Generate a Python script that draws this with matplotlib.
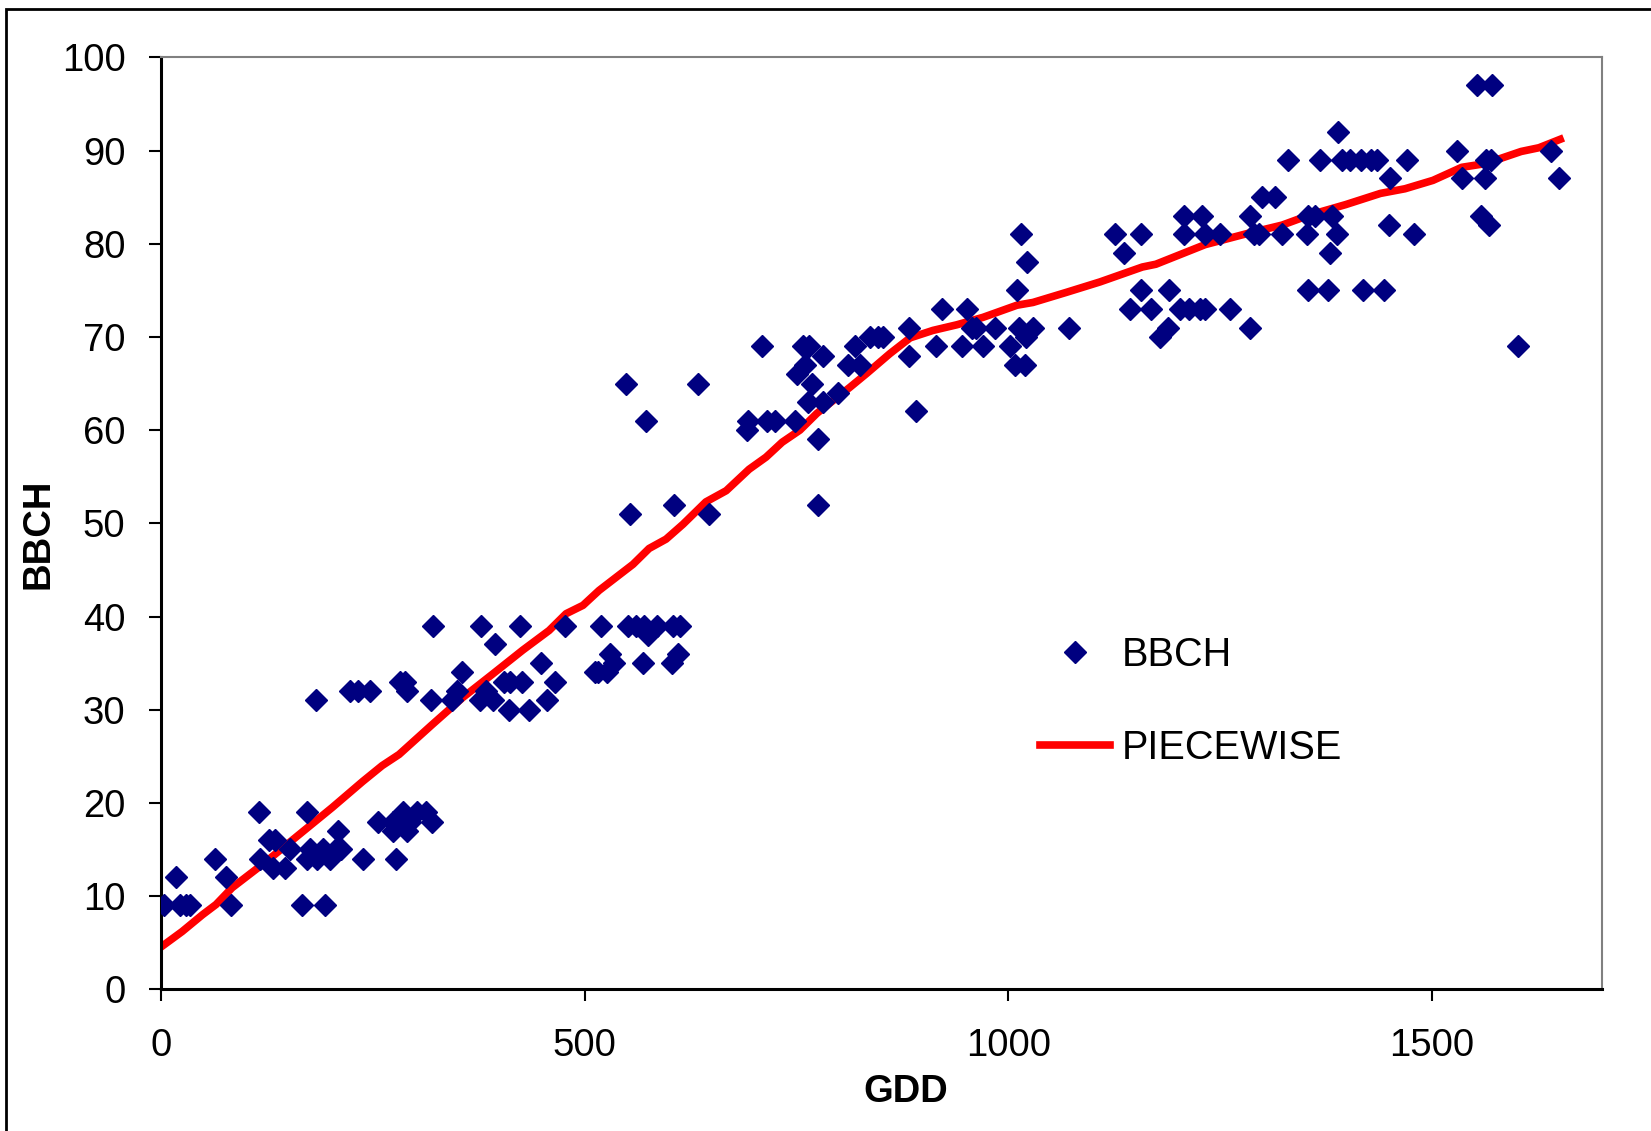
import matplotlib
matplotlib.use("Agg")
import matplotlib.pyplot as plt
from matplotlib.patches import Rectangle

# Datos observados (GDD, BBCH)
gdd_obs = [
    3, 18, 22, 30, 34, 64, 77, 83,
    116, 117, 127, 134, 132, 146, 152,
    166, 172, 176, 172, 184, 191, 199, 206, 213, 209, 194,
    183, 223, 233, 247,
    238, 256, 274, 274, 277, 286, 290, 294, 302, 313, 320,
    282, 288, 290,
    319, 321, 343, 349, 355,
    378, 377, 384, 392, 394,
    405, 412, 411, 424, 426, 434,
    449, 456, 465, 477,
    512, 519, 516, 526, 530, 534,
    551, 560, 570, 575, 585, 569, 604, 612, 603, 610,
    549, 554, 572, 605, 634, 647,
    691, 693, 709, 715, 725, 748,
    750, 758, 765, 760, 768, 764, 781, 781, 799, 775, 775,
    811, 819, 825, 837, 846, 852,
    883, 883, 891, 915, 922, 945, 951, 957, 962, 970, 984,
    1002, 1008, 1010, 1013, 1015, 1019, 1021, 1022, 1029, 1071,
    1126, 1136, 1143, 1156, 1156, 1168, 1179, 1188, 1189,
    1207, 1207, 1203, 1213, 1226, 1229, 1232, 1232, 1250, 1261,
    1285, 1285, 1290, 1296, 1299, 1315, 1323, 1330,
    1352, 1353, 1354, 1362, 1368, 1377, 1380, 1382, 1388, 1389,
    1394, 1403, 1416, 1418, 1428, 1435, 1443, 1449, 1450, 1470, 1478,
    1529, 1535, 1553, 1558, 1562, 1564, 1569, 1567, 1571, 1601, 1640, 1650,
]
bbch_obs = [
    9, 12, 9, 9, 9, 14, 12, 9,
    19, 14, 16, 16, 13, 13, 15,
    9, 19, 15, 14, 14, 15, 14, 15, 15, 17, 9,
    31, 32, 32, 32,
    14, 18, 18, 17, 14, 19, 17, 18, 19, 19, 18,
    33, 33, 32,
    31, 39, 31, 32, 34,
    39, 31, 32, 31, 37,
    33, 33, 30, 39, 33, 30,
    35, 31, 33, 39,
    34, 39, 34, 34, 36, 35,
    39, 39, 39, 38, 39, 35, 39, 39, 35, 36,
    65, 51, 61, 52, 65, 51,
    60, 61, 69, 61, 61, 61,
    66, 69, 69, 67, 65, 63, 68, 63, 64, 59, 52,
    67, 69, 67, 70, 70, 70,
    71, 68, 62, 69, 73, 69, 73, 71, 71, 69, 71,
    69, 67, 75, 71, 81, 67, 70, 78, 71, 71,
    81, 79, 73, 81, 75, 73, 70, 71, 75,
    83, 81, 73, 73, 73, 83, 73, 81, 81, 73,
    83, 71, 81, 81, 85, 85, 81, 89,
    81, 83, 75, 83, 89, 75, 79, 83, 81, 92,
    89, 89, 89, 75, 89, 89, 75, 82, 87, 89, 81,
    90, 87, 97, 83, 87, 89, 89, 82, 97, 69, 90, 87,
]

# Curva ajustada (PIECEWISE)
gdd_fit = [
    1, 25, 49, 65, 84, 124, 163, 202, 238, 261, 281, 320, 356, 391, 427,
    458, 478, 498, 517, 557, 576, 596, 616, 643, 667, 694, 714, 733, 754,
    774, 813, 833, 860, 884, 911, 939, 970, 1010, 1029, 1069, 1108, 1158,
    1174, 1232, 1282, 1323, 1356, 1398, 1439, 1468, 1501, 1535, 1563, 1605,
    1626, 1651,
]
bbch_fit = [
    4.6, 6.2, 8.0, 9.1, 10.9, 13.7, 16.6, 19.5, 22.3, 24.0, 25.2, 28.4, 31.3,
    33.8, 36.4, 38.5, 40.3, 41.2, 42.8, 45.6, 47.3, 48.3, 49.9, 52.3, 53.5,
    55.8, 57.1, 58.7, 60.0, 61.8, 64.6, 66.1, 68.2, 69.9, 70.7, 71.3, 72.1,
    73.4, 73.7, 74.8, 75.9, 77.5, 77.8, 79.9, 81.1, 82.0, 83.1, 84.2, 85.4,
    85.9, 86.8, 88.2, 88.6, 89.9, 90.3, 91.2,
]

x_ticks = [0, 500, 1000, 1500]
y_ticks = list(range(0, 101, 10))

plt.rcParams["font.family"] = ["Liberation Sans", "DejaVu Sans"]

fig = plt.figure(figsize=(16.51, 11.31), dpi=100)
ax = fig.add_axes([0.0975, 0.1253, 0.8726, 0.824])

ax.plot(gdd_obs, bbch_obs, linestyle="none", marker="D", markersize=11.5,
        color="#000080", label="BBCH", zorder=3)
ax.plot(gdd_fit, bbch_fit, color="#FF0000", linewidth=5.5, label="PIECEWISE",
        zorder=2)

ax.set_xlim(0, 1700)
ax.set_ylim(0, 100)
ax.set_xticks(x_ticks)
ax.set_yticks(y_ticks)

ax.tick_params(axis="both", direction="out", length=8.6, width=1.5,
               labelsize=27.5, color="black")
ax.tick_params(axis="y", pad=17)
ax.tick_params(axis="x", pad=19)

for lado in ["left", "bottom"]:
    ax.spines[lado].set_color("black")
    ax.spines[lado].set_linewidth(2.2)
for lado in ["top", "right"]:
    ax.spines[lado].set_color("#808080")
    ax.spines[lado].set_linewidth(1.5)

ax.set_xlabel("GDD", fontsize=27.5, fontweight="bold")
ax.set_ylabel("BBCH", fontsize=27.5, fontweight="bold")
ax.xaxis.label.set_va("center")
ax.yaxis.label.set_va("center")
ax.xaxis.set_label_coords(0.517, -0.110)
ax.yaxis.set_label_coords(-0.0847, 0.4885)

ax.legend(loc="center left", bbox_to_anchor=(0.6105, 0.3088), frameon=False,
          fontsize=28.5, handlelength=1.75, handletextpad=0.3,
          labelspacing=1.4, borderpad=0, borderaxespad=0, numpoints=1)

# Marco exterior del grafico
fig.patches.append(Rectangle((6 / 1651, -0.1), 1.2, 1.1 - 9 / 1131,
                             transform=fig.transFigure, fill=False,
                             edgecolor="black", linewidth=2))

fig.savefig("out.png", dpi=100)
